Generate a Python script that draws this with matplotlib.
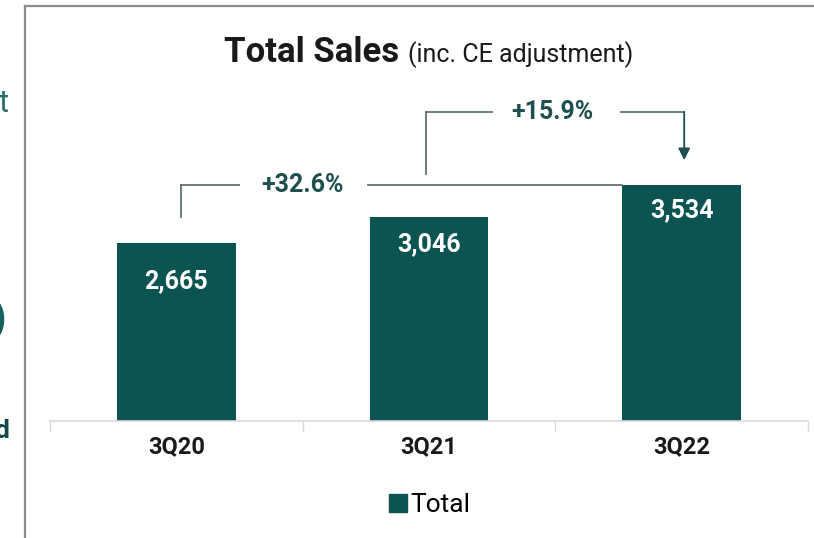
import matplotlib.pyplot as plt
from matplotlib.patches import Patch
from matplotlib.lines import Line2D

# data
quarters = ["3Q20", "3Q21", "3Q22"]
sales = [2665, 3046, 3534]
value_labels = ["2,665", "3,046", "3,534"]
growth_labels = ["+32.6%", "+15.9%"]

TEAL = "#0b5452"
TEXT_TEAL = "#1d4f4f"
LINE = "#5f7373"
FONT = ["Roboto", "DejaVu Sans"]

plt.rcParams["font.family"] = FONT

W, H = 814, 538
fig = plt.figure(figsize=(W / 100, H / 100), dpi=100)

def fx(px):
    return px / W

def fy(py):
    return (H - py) / H

# panel border (top + left edge of the slide box)
fig.add_artist(Line2D([fx(25), fx(25)], [fy(6), 0], color="#8c8c8c", lw=1.6))
fig.add_artist(Line2D([fx(25), 1], [fy(6), fy(6)], color="#8c8c8c", lw=1.6))

# cropped text fragments from neighbouring slide content
fig.text(fx(9), fy(112), "t", ha="right", va="baseline", fontsize=22,
         color="#2a6b6b")
fig.text(fx(6), fy(332), ")", ha="right", va="baseline", fontsize=32,
         color="#14605e", fontweight="bold")
fig.text(fx(9), fy(438), "d", ha="right", va="baseline", fontsize=19,
         color="#0f4a4a", fontweight="bold")

ax = fig.add_axes([fx(50), fy(421), fx(808) - fx(50), fy(6) - fy(421)])
x = range(len(quarters))
bw = 0.47
ax.bar(x, sales, width=bw, color=TEAL, zorder=2)
ax.set_xlim(-0.5, 2.5)
ax.set_ylim(0, 6210)

for s in ["top", "right", "left"]:
    ax.spines[s].set_visible(False)
ax.spines["bottom"].set_color("#d9d9d9")
ax.spines["bottom"].set_linewidth(1.2)
ax.set_yticks([])
ax.set_xticks(list(x))
ax.set_xticklabels(quarters, fontsize=17, fontweight="bold", color="#1a1a1a")
ax.tick_params(axis="x", which="major", length=0, pad=10)
ax.set_xticks([-0.5, 0.5, 1.5, 2.5], minor=True)
ax.tick_params(axis="x", which="minor", length=8, color="#d9d9d9", width=1)

# value labels inside bars
offsets = [-38, -27, -25]
for i, (v, lab) in enumerate(zip(sales, value_labels)):
    ax.annotate(lab, (i, v), xytext=(0, offsets[i]), textcoords="offset pixels",
                ha="center", va="center", color="white", fontsize=18,
                fontweight="bold")

# bracket 3Q20 -> 3Q22
y1 = sales[2]
ax.plot([0.02, 0.02], [sales[0] + 390, y1], color=LINE, lw=1.3)
ax.plot([0.02, 0.25], [y1, y1], color=LINE, lw=1.3)
ax.plot([0.76, 2 - bw / 2], [y1, y1], color=LINE, lw=1.3)
ax.text(0.50, y1, growth_labels[0], ha="center", va="center",
        fontsize=18, fontweight="bold", color=TEXT_TEAL)

# bracket 3Q21 -> 3Q22 with arrow
y2 = sales[2] + 1090
ax.plot([0.99, 0.99], [sales[1] + 650, y2], color=LINE, lw=1.3)
ax.plot([0.99, 1.25], [y2, y2], color=LINE, lw=1.3)
ax.plot([1.76, 2.01], [y2, y2], color=LINE, lw=1.3)
ax.annotate("", xy=(2.01, sales[2] + 370), xytext=(2.01, y2),
            arrowprops=dict(arrowstyle="-|>,head_length=0.7,head_width=0.35",
                            color=LINE, lw=1.3, fc=TEXT_TEAL, ec=TEXT_TEAL,
                            shrinkA=0, shrinkB=0))
ax.text(1.49, y2, growth_labels[1], ha="center", va="center",
        fontsize=18, fontweight="bold", color=TEXT_TEAL)

# title
fig.text(fx(399), fy(62), "Total Sales", ha="right", va="baseline",
         fontsize=25, fontweight="bold", color="#1a1a1a")
fig.text(fx(408), fy(62), "(inc. CE adjustment)", ha="left", va="baseline",
         fontsize=18, color="#1a1a1a")

# legend
fig.legend(handles=[Patch(color=TEAL, label="Total")], loc="center",
           bbox_to_anchor=(fx(430), fy(505)), frameon=False, fontsize=19,
           handlelength=0.65, handleheight=0.65, handletextpad=0.15)

fig.savefig("out.png", dpi=100)
